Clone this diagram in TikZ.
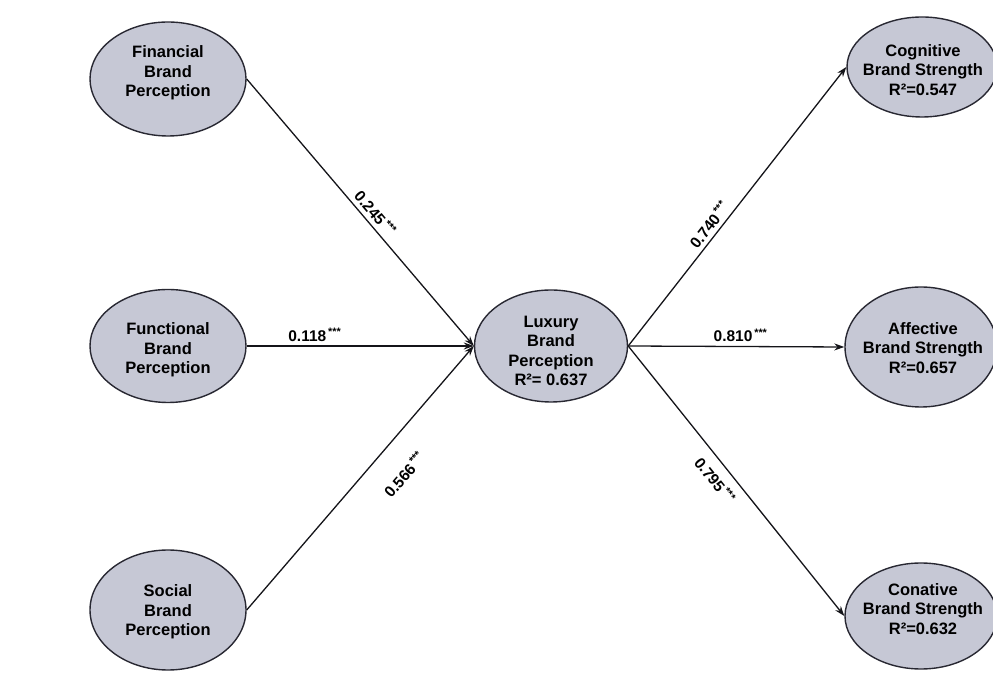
\documentclass[tikz,border=0pt]{standalone}
\usepackage{fontspec}
\setmainfont{Liberation Sans}
\usetikzlibrary{shapes.geometric,arrows.meta}
\definecolor{ovalfill}{RGB}{198,200,213}
\definecolor{ovalline}{RGB}{40,40,50}
\definecolor{linkcol}{RGB}{20,20,25}
\newcommand{\sig}{\textsuperscript{\,***}}
\begin{document}
\begin{tikzpicture}[x=1pt,y=1pt,
  oval/.style={ellipse, draw=ovalline, line width=1.4pt, fill=ovalfill, inner sep=0pt},
  ovaltext/.style={align=center, inner sep=0pt, text=black,
    font=\fontsize{16.5}{19.5}\selectfont\bfseries},
  link/.style={draw=linkcol, line width=1.3pt, -{Stealth[length=10pt,width=7pt]}},
  coef/.style={font=\fontsize{15.5}{18}\selectfont\bfseries, text=black, inner sep=4pt}]
\useasboundingbox (0,0) rectangle (993,677);

% exogenous constructs (left column)
\node[oval, minimum width=156pt, minimum height=114pt] (fin) at (168,598) {};
\node[ovaltext] (fin-t) at (168,604) {Financial\\Brand\\Perception};
\node[oval, minimum width=156pt, minimum height=113pt] (fun) at (168,331) {};
\node[ovaltext] (fun-t) at (168,327) {Functional\\Brand\\Perception};
\node[oval, minimum width=156pt, minimum height=120pt] (soc) at (168,67) {};
\node[ovaltext] (soc-t) at (168,65) {Social\\Brand\\Perception};

% mediating construct
\node[oval, minimum width=153pt, minimum height=112pt] (lux) at (551,331) {};
\node[ovaltext] (lux-t) at (551,326) {Luxury\\Brand\\Perception\\R²= 0.637};

% outcome constructs (right column)
\node[oval, minimum width=150pt, minimum height=100pt] (cog) at (922,610) {};
\node[ovaltext] (cog-t) at (923,607) {Cognitive\\Brand Strength\\R²=0.547};
\node[oval, minimum width=152pt, minimum height=120pt] (aff) at (921,330) {};
\node[ovaltext] (aff-t) at (923,329) {Affective\\Brand Strength\\R²=0.657};
\node[oval, minimum width=152pt, minimum height=106pt] (con) at (921,61) {};
\node[ovaltext] (con-t) at (923,68) {Conative\\Brand Strength\\R²=0.632};

% structural paths
\draw[link] (fin.east) -- node[coef, sloped, above, pos=0.53] (p1) {0.245\sig} (lux.west);
\draw[link] (fun.east) -- node[coef, above, pos=0.3] (p2) {0.118\sig} (lux.west);
\draw[link] (soc.east) -- node[coef, sloped, below=20pt, pos=0.59] (p3) {0.566\sig} (lux.west);
\draw[link] (lux.east) -- node[coef, sloped, above, pos=0.41] (p4) {0.740\sig} (cog.west);
\draw[link] (lux.east) -- node[coef, above, pos=0.52] (p5) {0.810\sig} (aff.west);
\draw[link] (lux.east) -- node[coef, sloped, below=5pt, pos=0.46] (p6) {0.795\sig} (con.west);
\end{tikzpicture}
\end{document}
